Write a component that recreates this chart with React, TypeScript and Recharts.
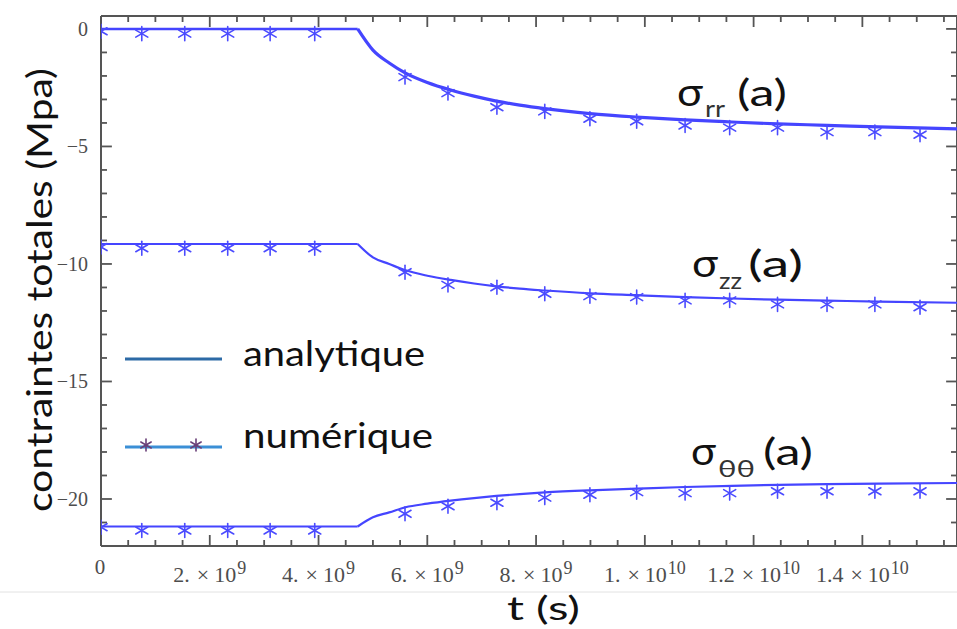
import React from "react";
import { ComposedChart, Line, XAxis, YAxis, ReferenceLine } from "recharts";

// time in seconds; analytic solution: constant part, then evolution after t ≈ 4.72e9 s
const tFlat = [0, 4.72e9];
const rrFlat = [0, 0];
const zzFlat = [-9.15, -9.15];
const ttFlat = [-21.17, -21.17];

const tAna = [4.72e9, 5.0e9, 5.3e9, 5.6e9, 6.0e9, 6.43e9, 6.86e9, 7.27e9, 7.7e9, 8.16e9, 8.99e9, 9.85e9, 10.74e9, 11.6e9, 12.45e9, 13.35e9, 14.3e9, 15.74e9];
const rrAna = [0, -0.9, -1.45, -1.88, -2.28, -2.6, -2.86, -3.07, -3.24, -3.39, -3.6, -3.75, -3.87, -3.96, -4.04, -4.1, -4.17, -4.25];
const zzAna = [-9.15, -9.72, -10.0, -10.27, -10.5, -10.68, -10.83, -10.95, -11.05, -11.13, -11.25, -11.33, -11.41, -11.47, -11.52, -11.56, -11.6, -11.65];
const ttAna = [-21.17, -20.78, -20.57, -20.35, -20.2, -20.07, -19.96, -19.87, -19.79, -19.72, -19.63, -19.56, -19.49, -19.44, -19.4, -19.37, -19.35, -19.32];

// numerical solution (asterisks)
const tNum = [0, 0.75e9, 1.54e9, 2.33e9, 3.11e9, 3.93e9, 5.59e9, 6.38e9, 7.28e9, 8.16e9, 8.99e9, 9.85e9, 10.74e9, 11.56e9, 12.44e9, 13.35e9, 14.23e9, 15.06e9];
const rrNum = [-0.1, -0.2, -0.2, -0.2, -0.2, -0.2, -2.05, -2.73, -3.33, -3.51, -3.82, -3.93, -4.11, -4.2, -4.2, -4.39, -4.39, -4.5];
const zzNum = [-9.28, -9.33, -9.33, -9.33, -9.33, -9.33, -10.35, -10.89, -10.99, -11.27, -11.37, -11.41, -11.55, -11.55, -11.72, -11.72, -11.72, -11.84];
const ttNum = [-21.2, -21.34, -21.34, -21.34, -21.34, -21.34, -20.63, -20.31, -20.16, -19.94, -19.82, -19.71, -19.75, -19.75, -19.67, -19.67, -19.67, -19.67];

const xMajor = [0, 2e9, 4e9, 6e9, 8e9, 1e10, 1.2e10, 1.4e10];
const xMant = ["0", "2.", "4.", "6.", "8.", "1.", "1.2", "1.4"];
const xExp = ["", "9", "9", "9", "9", "10", "10", "10"];
const yMajor = [0, -5, -10, -15, -20];
const yLabels = ["0", "−5", "−10", "−15", "−20"];

const X_MAX = 15.74e9;
const Y_MIN = -22;
const Y_MAX = 0.55;
const xTicks = Array.from({ length: 32 }, (_, i) => i * 0.5e9);
const yTicks = Array.from({ length: 23 }, (_, i) => -i);

const zip = (ts: number[], vs: number[]) => ts.map((t, i) => ({ t, v: vs[i] }));
const isMajorX = (t: number) => xMajor.some((m) => Math.abs(m - t) < 1);

const AX = "#555";
const LINE = "#4545ff";
const SERIF = "'Liberation Serif', 'DejaVu Serif', serif";
const SANS = "Lato, 'Noto Sans', sans-serif";

// tick lengths in data units (frame ticks point inwards)
const X_TICK_LEN = [0.255, 0.468]; // minor, major (y units)
const Y_TICK_LEN = [0.11e9, 0.2e9]; // minor, major (x units)

// tick segments, one list per side
const tickSegs = [
  ...xTicks.map((t) => ({ id: `xb${t}`, a: { x: t, y: Y_MIN }, b: { x: t, y: Y_MIN + X_TICK_LEN[isMajorX(t) ? 1 : 0] } })),
  ...xTicks.map((t) => ({ id: `xt${t}`, a: { x: t, y: Y_MAX }, b: { x: t, y: Y_MAX - X_TICK_LEN[isMajorX(t) ? 1 : 0] } })),
  ...yTicks.map((v) => ({ id: `yl${v}`, a: { x: 0, y: v }, b: { x: Y_TICK_LEN[yMajor.includes(v) ? 1 : 0], y: v } })),
  ...yTicks.map((v) => ({ id: `yr${v}`, a: { x: X_MAX, y: v }, b: { x: X_MAX - Y_TICK_LEN[yMajor.includes(v) ? 1 : 0], y: v } })),
];

function Star({ cx, cy, color = "#4b4bff", s = 7 }: any) {
  if (cx == null || cy == null) return null;
  return (
    <g stroke={color} strokeWidth={1.6} strokeLinecap="round">
      <line x1={cx} y1={cy - s} x2={cx} y2={cy + s} />
      <line x1={cx - s * 0.86} y1={cy - s * 0.5} x2={cx + s * 0.86} y2={cy + s * 0.5} />
      <line x1={cx - s * 0.86} y1={cy + s * 0.5} x2={cx + s * 0.86} y2={cy - s * 0.5} />
    </g>
  );
}

const renderStar = (p: any) => <Star key={p.index} cx={p.cx} cy={p.cy} />;

function BottomTick({ x, y, payload }: any) {
  const idx = xMajor.findIndex((m) => Math.abs(m - payload.value) < 1);
  if (idx < 0) return <g />;
  if (xExp[idx] === "") {
    return (
      <text x={x - 1} y={y + 28} textAnchor="middle" fontFamily={SERIF} fontSize={21} fill="#4d4d4d">
        {xMant[idx]}
      </text>
    );
  }
  return (
    <text x={x} y={y + 36} textAnchor="middle" fontFamily={SERIF} fontSize={22} fill="#4d4d4d">
      {xMant[idx]}
      <tspan dx={7}>×</tspan>
      <tspan dx={5}>10</tspan>
      <tspan dx={1} dy={-8} fontSize={18}>{xExp[idx]}</tspan>
    </text>
  );
}

function LeftTick({ x, y, payload }: any) {
  const idx = yMajor.indexOf(payload.value);
  if (idx < 0) return <g />;
  return (
    <text x={x - 13} y={y + 7} textAnchor="end" fontFamily={SERIF} fontSize={20} fill="#4d4d4d">
      {yLabels[idx]}
    </text>
  );
}

function Labels() {
  const txt = { fontFamily: SANS, fill: "#111" };
  return (
    <svg width={957} height={629} style={{ position: "absolute", left: 0, top: 0, pointerEvents: "none" }}>
      <line x1={0} x2={957} y1={592} y2={592} stroke="#e2e2e2" strokeWidth={1} />

      <text {...txt} transform="translate(52 290) rotate(-90)" textAnchor="middle" fontSize={35} textLength={444} lengthAdjust="spacingAndGlyphs">
        contraintes totales (Mpa)
      </text>
      <text {...txt} x={507} y={620} fontSize={33} textLength={73} lengthAdjust="spacingAndGlyphs">t (s)</text>

      <text {...txt} x={677} y={106} fontSize={38} textLength={26} lengthAdjust="spacingAndGlyphs">σ</text>
      <text {...txt} x={705} y={117} fontSize={24} fill="#333" textLength={20} lengthAdjust="spacingAndGlyphs">rr</text>
      <text {...txt} x={737} y={106} fontSize={36} textLength={50} lengthAdjust="spacingAndGlyphs">(a)</text>

      <text {...txt} x={692} y={277} fontSize={38} textLength={26} lengthAdjust="spacingAndGlyphs">σ</text>
      <text {...txt} x={719} y={289} fontSize={24} fill="#333" textLength={23} lengthAdjust="spacingAndGlyphs">zz</text>
      <text {...txt} x={748} y={277} fontSize={36} textLength={55} lengthAdjust="spacingAndGlyphs">(a)</text>

      <text {...txt} x={691} y={465} fontSize={38} textLength={25} lengthAdjust="spacingAndGlyphs">σ</text>
      <text {...txt} x={718} y={477} fontSize={24} fill="#333" textLength={37} lengthAdjust="spacingAndGlyphs">θθ</text>
      <text {...txt} x={763} y={465} fontSize={36} textLength={50} lengthAdjust="spacingAndGlyphs">(a)</text>

      {/* legend */}
      <line x1={125} x2={222} y1={359} y2={359} stroke="#2d6aa6" strokeWidth={3} />
      <text {...txt} x={243} y={366} fontSize={34} textLength={182} lengthAdjust="spacingAndGlyphs">analytique</text>
      <line x1={125} x2={222} y1={447} y2={447} stroke="#3b8fd6" strokeWidth={3} />
      <Star cx={146} cy={445} s={6} color="#6a3f78" />
      <Star cx={196} cy={445} s={6} color="#6a3f78" />
      <text {...txt} x={243} y={448} fontSize={34} textLength={190} lengthAdjust="spacingAndGlyphs">numérique</text>
    </svg>
  );
}

export default function App() {
  return (
    <div style={{ position: "absolute", left: 0, top: 0, width: 957, height: 629, background: "#fff" }}>
      <ComposedChart width={957} height={629} margin={{ top: 16, right: 0, bottom: 0, left: 0 }}>
        <XAxis
          dataKey="t"
          type="number"
          domain={[0, X_MAX]}
          allowDataOverflow
          ticks={xTicks}
          interval={0}
          height={83}
          tickSize={0}
          tickMargin={0}
          tickLine={false}
          axisLine={{ stroke: AX, strokeWidth: 2 }}
          tick={BottomTick}
        />
        <YAxis
          type="number"
          domain={[Y_MIN, Y_MAX]}
          allowDataOverflow
          ticks={yTicks}
          interval={0}
          width={101}
          tickSize={0}
          tickMargin={0}
          tickLine={false}
          axisLine={{ stroke: AX, strokeWidth: 2 }}
          tick={LeftTick}
        />

        {/* frame: top and right edges */}
        <ReferenceLine y={Y_MAX} stroke={AX} strokeWidth={2} ifOverflow="visible" />
        <ReferenceLine x={X_MAX} stroke={AX} strokeWidth={2} ifOverflow="visible" />

        {/* inward tick marks on all four sides */}
        {tickSegs.map((s) => (
          <ReferenceLine key={s.id} segment={[s.a, s.b]} stroke={AX} strokeWidth={1.8} ifOverflow="visible" />
        ))}

        <Line data={zip(tFlat, rrFlat)} dataKey="v" type="linear" stroke={LINE} strokeWidth={2.6} dot={false} activeDot={false} isAnimationActive={false} />
        <Line data={zip(tAna, rrAna)} dataKey="v" type="monotone" stroke={LINE} strokeWidth={3.2} dot={false} activeDot={false} isAnimationActive={false} />
        <Line data={zip(tFlat, zzFlat)} dataKey="v" type="linear" stroke={LINE} strokeWidth={2.2} dot={false} activeDot={false} isAnimationActive={false} />
        <Line data={zip(tAna, zzAna)} dataKey="v" type="monotone" stroke={LINE} strokeWidth={2.2} dot={false} activeDot={false} isAnimationActive={false} />
        <Line data={zip(tFlat, ttFlat)} dataKey="v" type="linear" stroke={LINE} strokeWidth={2.2} dot={false} activeDot={false} isAnimationActive={false} />
        <Line data={zip(tAna, ttAna)} dataKey="v" type="monotone" stroke={LINE} strokeWidth={2.2} dot={false} activeDot={false} isAnimationActive={false} />

        <Line data={zip(tNum, rrNum)} dataKey="v" stroke="none" dot={renderStar} activeDot={false} isAnimationActive={false} />
        <Line data={zip(tNum, zzNum)} dataKey="v" stroke="none" dot={renderStar} activeDot={false} isAnimationActive={false} />
        <Line data={zip(tNum, ttNum)} dataKey="v" stroke="none" dot={renderStar} activeDot={false} isAnimationActive={false} />
      </ComposedChart>
      <Labels />
    </div>
  );
}
